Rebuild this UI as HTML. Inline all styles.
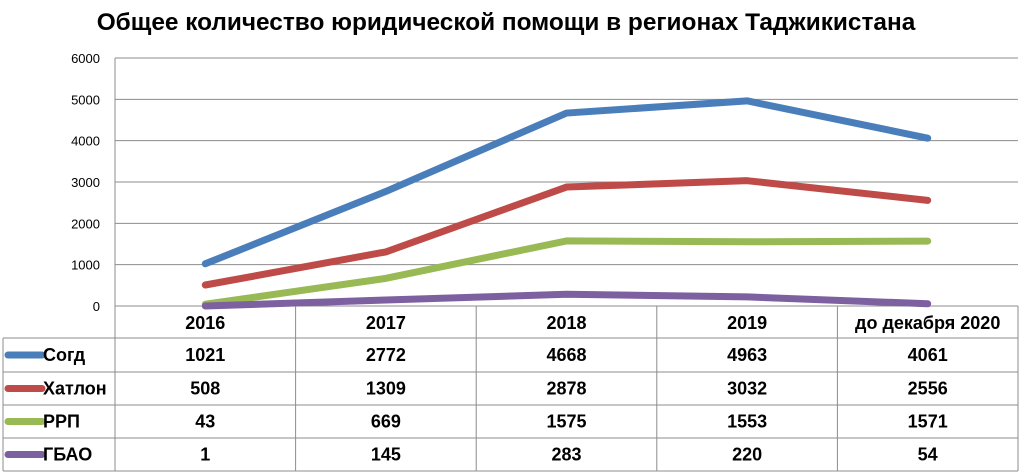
<!DOCTYPE html>
<html><head><meta charset="utf-8"><style>
body{margin:0;background:#fff;width:1024px;height:475px;overflow:hidden;font-family:"Liberation Sans","DejaVu Sans",sans-serif}
svg{display:block}
.t{font-weight:bold;font-size:18px;fill:#000}
</style></head><body>
<svg id="c" width="1024" height="475">
<text x="506" y="30" text-anchor="middle" font-size="24.4" font-weight="bold">Общее количество юридической помощи в регионах Таджикистана</text>
</svg>
<script>
const categories=["2016","2017","2018","2019","до декабря 2020"];
const seriesNames=["Согд","Хатлон","РРП","ГБАО"];
const sogd=[1021,2772,4668,4963,4061];
const khatlon=[508,1309,2878,3032,2556];
const rrp=[43,669,1575,1553,1571];
const gbao=[1,145,283,220,54];
const yTicks=[0,1000,2000,3000,4000,5000,6000];
const colors=["#4a7ebb","#be4b48","#98b954","#7d60a0"];
const series=[sogd,khatlon,rrp,gbao];
const svg=document.getElementById('c');
const NS="http://www.w3.org/2000/svg";
const X0=115,X1=1018,Y0=306,Y1=58,YMAX=6000;
const colW=(X1-X0)/categories.length;
const x=i=>X0+colW*(i+0.5);
const y=v=>Y0-(v/YMAX)*(Y0-Y1);
function el(tag,attrs,parent){const e=document.createElementNS(NS,tag);for(const k in attrs)e.setAttribute(k,attrs[k]);(parent||svg).appendChild(e);return e;}
yTicks.forEach(t=>{
 const g=el('line',{x1:X0,x2:X1,y1:y(t),y2:y(t),stroke:'#8c8c8c','stroke-width':1});
 
 
 const l=el('text',{x:100,y:y(t)+5,'text-anchor':'end','font-size':13});
 l.textContent=t;
 
 
});
const ax=el('line',{x1:X0,x2:X0,y1:Y1,y2:Y0,stroke:'#8c8c8c'});


const rows=[306,338,372,405,438,471];
const tg=el('g',{stroke:'#8c8c8c','stroke-width':1,fill:'none'});


for(let i=0;i<=categories.length;i++)el('line',{x1:X0+colW*i,x2:X0+colW*i,y1:Y0,y2:471},tg);
el('line',{x1:3,x2:3,y1:338,y2:471},tg);
rows.forEach((r,i)=>el('line',{x1:i==0?X0:3,x2:X1,y1:r,y2:r},tg));
categories.forEach((c,i)=>{
 const t=el('text',{x:x(i),y:329,'text-anchor':'middle',class:'t'});
 t.textContent=c;
 
 
});
series.forEach((s,si)=>{
 const ry=(rows[si+1]+rows[si+2])/2;
 const k=el('line',{x1:8,x2:42,y1:ry,y2:ry,stroke:colors[si],'stroke-width':7,'stroke-linecap':'round'});
 
 
 const n=el('text',{x:43,y:ry+6,class:'t'});
 n.textContent=seriesNames[si];
 
 
 s.forEach((v,i)=>{
  const t=el('text',{x:x(i),y:ry+6,'text-anchor':'middle',class:'t'});
  t.textContent=v;
  
  
 });
});
series.forEach((s,si)=>{
 const p=el('polyline',{points:s.map((v,i)=>x(i)+','+y(v)).join(' '),fill:'none',stroke:colors[si],'stroke-width':7,'stroke-linecap':'round','stroke-linejoin':'round'});
 
 
});
</script>
</body></html>
